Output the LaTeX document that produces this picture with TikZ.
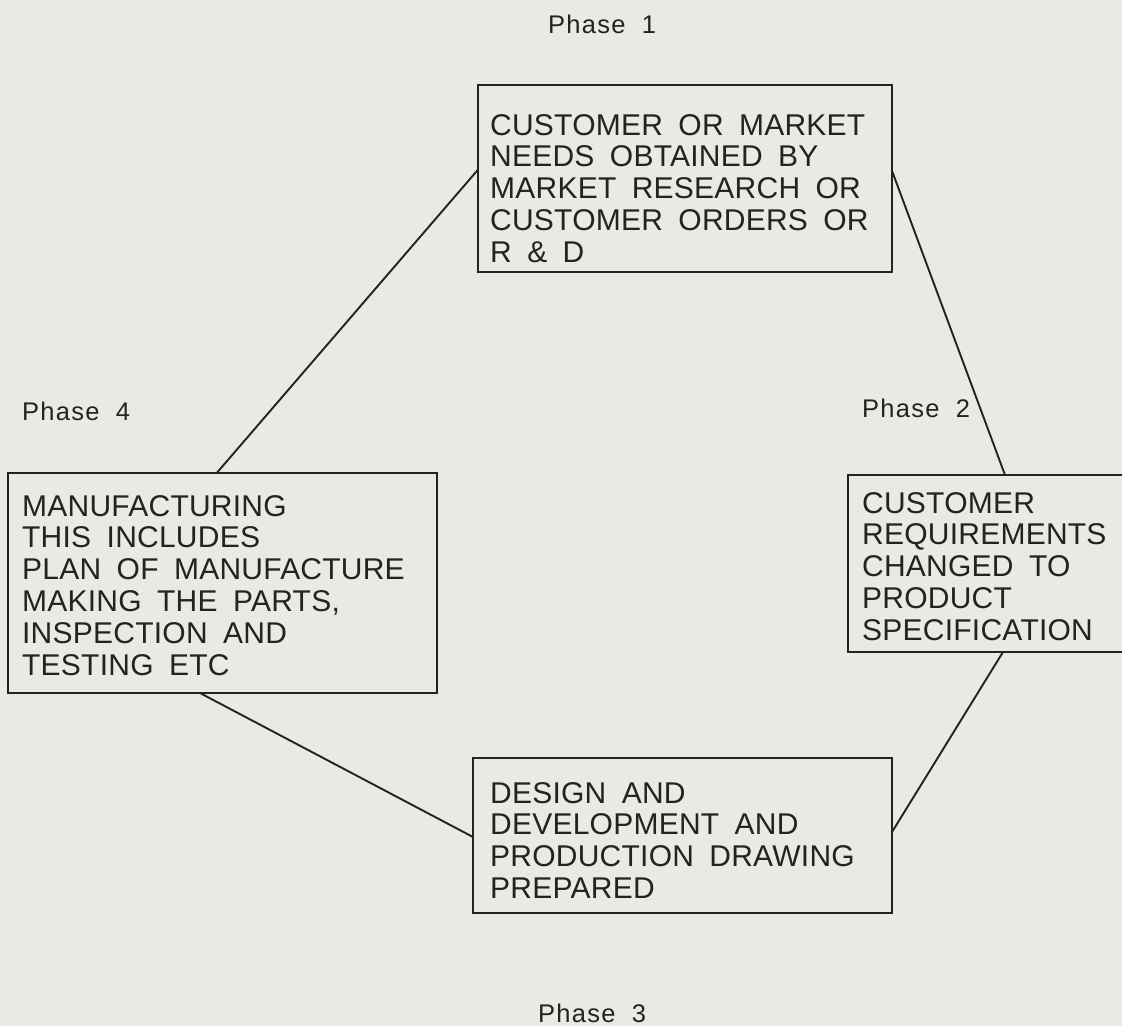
\documentclass[tikz,border=0pt]{standalone}
\usepackage{fontspec}
\setmainfont{Liberation Sans}
\newfontfamily\boxfont[LetterSpace=0.8,WordSpace=1.8]{Liberation Sans}
\newfontfamily\phasefont[LetterSpace=5]{Liberation Sans}
\definecolor{paper}{RGB}{232,234,228}
\definecolor{ink}{RGB}{35,35,35}
\begin{document}
\begin{tikzpicture}[x=1pt,y=-1pt,
  stagebox/.style={draw=ink,line width=2pt,inner sep=0pt,outer sep=0pt},
  boxtext/.style={anchor=north west,inner sep=0pt,align=left,text=ink,
    font=\boxfont\fontsize{30}{31.8}\selectfont},
  phaselabel/.style={anchor=base west,inner sep=0pt,text=ink,
    font=\phasefont\fontsize{25.5}{28}\selectfont},
  link/.style={draw=ink,line width=1.9pt}]
\fill[paper] (0,0) rectangle (1122,1026);
\useasboundingbox (0,0) rectangle (1122,1026);

% boxes
\node[stagebox,minimum width=414pt,minimum height=187pt] (b1) at (684.7,178.5) {};
\node[stagebox,minimum width=278pt,minimum height=177pt] (b2) at (987,563.5) {};
\node[stagebox,minimum width=429pt,minimum height=220pt] (b4) at (222.5,583) {};
\node[stagebox,minimum width=419pt,minimum height=155pt] (b3) at (682.5,835.5) {};

% box texts
\node[boxtext] (t1) at (490,114) {CUSTOMER OR MARKET\\NEEDS OBTAINED BY\\MARKET RESEARCH OR\\CUSTOMER ORDERS OR\\R \& D};
\node[boxtext] (t2) at (862,492) {CUSTOMER\\REQUIREMENTS\\CHANGED TO\\PRODUCT\\SPECIFICATION};
\node[boxtext] (t4) at (22,495) {MANUFACTURING\\THIS INCLUDES\\PLAN OF MANUFACTURE\\MAKING THE PARTS,\\INSPECTION AND\\TESTING ETC};
\node[boxtext] (t3) at (490,782) {DESIGN AND\\DEVELOPMENT AND\\PRODUCTION DRAWING\\PREPARED};

% phase labels
\node[phaselabel] (p1) at (548,33) {Phase\ \hspace{8pt}1};
\node[phaselabel] (p2) at (862,417) {Phase\ \hspace{8pt}2};
\node[phaselabel] (p4) at (22,420) {Phase\ \hspace{8pt}4};
\node[phaselabel] (p3) at (538,1022) {Phase\ \hspace{8pt}3};

% connectors
\draw[link] ([yshift=8.5pt]b1.west) -- ([xshift=-5.8pt]b4.north);
\draw[link] ([yshift=8.5pt]b1.east) -- ([xshift=18pt]b2.north);
\draw[link] ([xshift=16pt]b2.south) -- ([yshift=3.5pt]b3.east);
\draw[link] ([xshift=-22.5pt]b4.south) -- ([yshift=-1.5pt]b3.west);
\end{tikzpicture}
\end{document}
